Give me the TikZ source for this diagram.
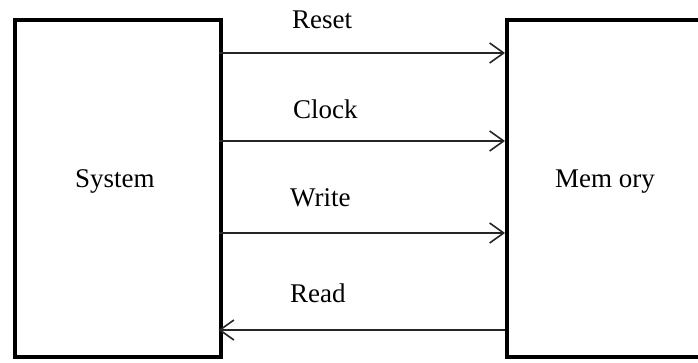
\documentclass[tikz,border=0pt]{standalone}
\usepackage{fontspec}
\setmainfont{Liberation Serif}
\usetikzlibrary{arrows.meta}
\begin{document}
\begin{tikzpicture}[x=1pt,y=1pt,
  blockbox/.style={draw=black,line width=4pt,minimum width=206pt,minimum height=336pt,inner sep=0pt,anchor=south west},
  sigline/.style={draw=black!85,line width=1.6pt,-{Straight Barb[length=14pt,width=20pt,line width=1.6pt]}},
  lbl/.style={inner sep=0pt,anchor=base west,font=\fontsize{27}{30}\selectfont}]
\useasboundingbox (0,0) rectangle (698,362);
\fill[white] (0,0) rectangle (698,362);
\clip (0,0) rectangle (698,362);
\node[blockbox] (sys) at (12.5,3.5) {};
\node[blockbox,minimum width=300pt] (mem) at (505,3.5) {};
\node[lbl] (tsys) at (75,175) {System};
\node[lbl] (tmem) at (555,175) {Mem ory};
\coordinate (r1) at (218.5,309);
\coordinate (r2) at (218.5,221);
\coordinate (r3) at (218.5,129);
\coordinate (r4) at (218.5,32);
\draw[sigline] (r1) -- (mem.west |- r1);
\draw[sigline] (r2) -- (mem.west |- r2);
\draw[sigline] (r3) -- (mem.west |- r3);
\draw[sigline] (mem.west |- r4) -- (r4);
\node[lbl] (treset) at (292,333) {Reset};
\node[lbl] (tclock) at (293,243) {Clock};
\node[lbl] (twrite) at (290,156) {Write};
\node[lbl] (tread) at (290,60) {Read};
\end{tikzpicture}
\end{document}
